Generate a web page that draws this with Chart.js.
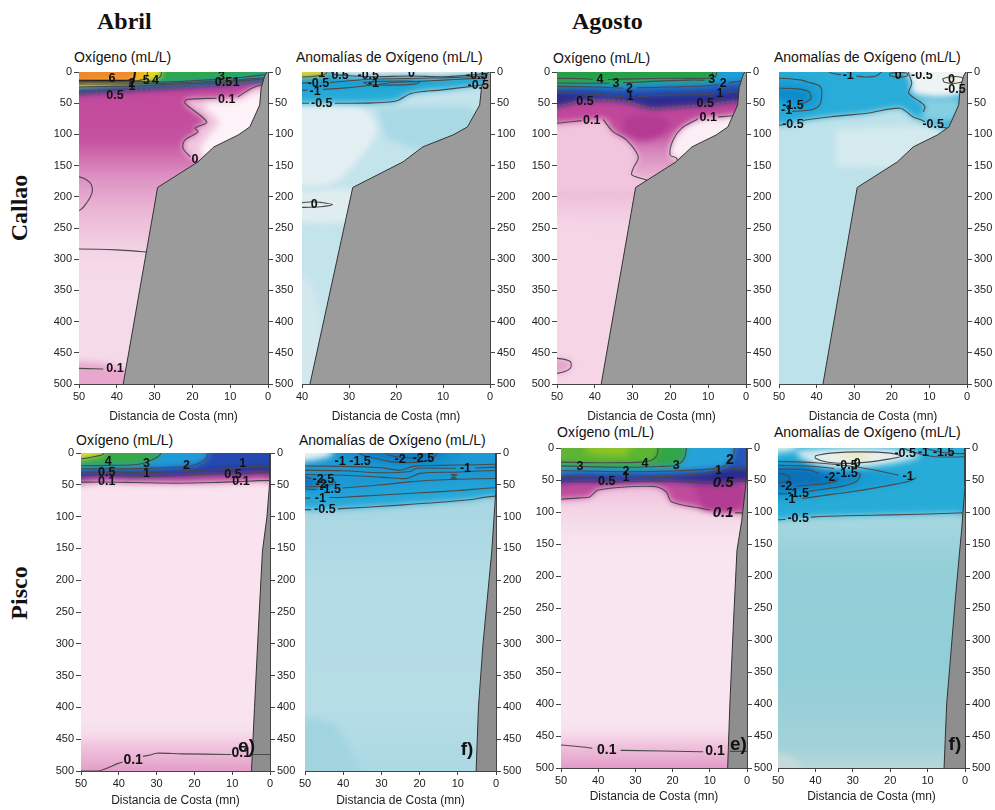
<!DOCTYPE html>
<html lang="es">
<head>
<meta charset="utf-8">
<title>Oxígeno disuelto y anomalías – Callao y Pisco</title>
<script src="https://cdn.jsdelivr.net/npm/chart.js@4.4.1/dist/chart.umd.min.js"></script>
<style>
html,body{margin:0;padding:0;background:#fff}
body{position:relative;width:995px;height:810px;overflow:hidden;font-family:"Liberation Sans",Arial,sans-serif;color:#111}
canvas{position:absolute}
.mes{position:absolute;top:9px;font:bold 24px/1 "Liberation Serif","Times New Roman",serif;color:#111}
.zona{position:absolute;font:bold 24px/1 "Liberation Serif","Times New Roman",serif;color:#111;white-space:nowrap;transform:translate(-50%,-50%) rotate(-90deg)}
.tit{position:absolute;font-size:14px;line-height:1;white-space:nowrap;color:#111}
</style>
</head>
<body>
<div class="mes" style="left:97px">Abril</div>
<div class="mes" style="left:572px">Agosto</div>
<div class="zona" style="left:19px;top:208px">Callao</div>
<div class="zona" style="left:19px;top:593px">Pisco</div>

<div class="tit" style="left:74px;top:50px">Oxígeno (mL/L)</div>
<div class="tit" style="left:296px;top:50px">Anomalías de Oxígeno (mL/L)</div>
<div class="tit" style="left:553px;top:51px">Oxígeno (mL/L)</div>
<div class="tit" style="left:774px;top:50px">Anomalías de Oxígeno (mL/L)</div>
<div class="tit" style="left:76px;top:433px">Oxígeno (mL/L)</div>
<div class="tit" style="left:299px;top:433px">Anomalías de Oxígeno (mL/L)</div>
<div class="tit" style="left:557px;top:425px">Oxígeno (mL/L)</div>
<div class="tit" style="left:774px;top:425px">Anomalías de Oxígeno (mL/L)</div>

<script>
const FONT = '"Liberation Sans", Arial, sans-serif';
Chart.defaults.font.family = FONT;

// ---------------- axes
const distTitle = 'Distancia de Costa (mn)';
const depthMax = 500, depthStep = 50, distStep = 10;

// ---------------- sea floor (x = distance from coast, mn ; y = depth, m)
const callaoFondo = [[-5,-40],[0,-40],[0.3,0],[0.8,5],[1.8,25],[2.2,53],[4.8,88],[7.9,101],[14.3,120],[18.5,144],[29.2,185],[38.3,500],[38.6,540],[-5,540]];
const piscoFondoAbrO = [[-5,-40],[0,-40],[0,40],[0.8,100],[2,154],[3.1,280],[4.1,400],[4.9,500],[5,540],[-5,540]];
const piscoFondoAbrA = [[-5,-40],[0,-40],[0,55],[1.1,154],[3.4,300],[4.6,400],[5.2,500],[5.3,540],[-5,540]];
const piscoFondoAgoO = [[-5,-40],[0,-40],[0,40],[1.4,113],[2.7,160],[3.7,280],[4.6,400],[5.2,500],[5.3,540],[-5,540]];
const piscoFondoAgoA = [[-5,-40],[0,-40],[0,60],[0.9,128],[2.5,230],[4.9,400],[5.6,500],[5.7,540],[-5,540]];

const RECT = [[60,-40],[-5,-40],[-5,540],[60,540]];

// ================= Callao, abril – oxígeno
const aC6 = [[60,14],[42,14],[36,13],[35.3,6],[35,-40]];
const aC5 = [[60,14.5],[36,14.5],[33,12],[32,6],[31.5,-40]];
const aC4 = [[60,15],[31,15],[29.2,11],[28.3,5],[27.5,-40]];
const aC3 = [[60,16.5],[27,16],[20,14],[12,11],[6,8],[2,5],[-5,2]];
const aC2 = [[60,19],[35,19],[25,17.5],[15,15],[8,13],[3,10],[-5,7]];
const aC1 = [[60,25],[40,23],[30,21],[20,18.5],[12,17],[8,15],[3,12],[-5,9]];
const aC05 = [[60,37],[50,35],[42.7,32.5],[35,29],[26,26],[20,24],[12.7,21],[8,18],[3,15.5],[-5,12]];
const aC01 = [[1.5,20],[4.3,26],[8,40],null,[13.6,42],[21.5,44],[22,50],[16.2,80],[19.3,90],[18.5,96],[22,109],[22.5,122],[20.6,136]];
const aC0a = [[60,170],[50,168],[47,178],[46.5,192],[48,210],[50,222],[60,226]];
const aC0b = [[60,283],[45,284],[40,285],[35,287],[31,289]];
const aC01b = [[60,475],[50,475],[43.6,476]];
const aZonaClara = [[1.5,20],[4.3,26],[8,40],[13.6,42],[21.5,44],[22,50],[16.2,80],[19.3,90],[18.5,96],[22,109],[22.5,122],[20.6,136],[19.5,142],[17,150],[-5,150],[-5,20]];
const aZonaBlanca = [[3,32],[9,47],[17,52],[13,80],[15.5,100],[18,125],[15,140],[-5,140],[-5,32]];
const aZonaBaja = [[60,462],[45,466],[38,476],[35,492],[36,540],[60,540]];
const aEtiquetas = [['6',41.3,11],['5',32.2,14],['4',29.8,14],['2',36,19],['1',36,23.5],['3',12.3,7.5],['0.5',11.8,17.5],['1',8.4,17],
  ['0.5',40.5,38],['0.1',10.9,44],['0',19.3,140],['0.1',40.5,476]];

// ================= Callao, abril – anomalías
const bM05 = [[60,50],[38.5,50],null,[33,50],[30.9,50],[25,49.5],[19.8,46],[17,35],[14,31],[10.6,29],[4.3,23.5],[2,21],[-5,16]];
const bM05s = [[60,17],[38.5,17.5],null,[34,17],[30,14],[25,11.5],[15,10],[8,9],[3,7],[-5,5]];
const bM1 = [[60,29],[38.8,29],null,[35.5,28],[30,25],[25,21],[20,16.5],[15,15],[10,13],[5,11],[-5,8]];
const bM1lazo = [[27,16.5],[24,15],[18,14.5],[15,16],[16,19.5],[21,21],[26,20],[27,16.5]];
const bCero = [[34,-5],[33.5,3],[30,6],[25,7.5],[17,6.5],[10,7.5],[4,5],[1,2],[-5,0]];
const bMedio = [[60,8.5],[40,8],[37,6.5],[35,3],[34.5,-5]];
const bLente = [[45,209],[40,209.5],[38,208],[36,209],[33.5,212.5],[36,216],[40,217],[45,217]];
const bAmarillo = [[60,-40],[60,9],[40,8.5],[37,7],[35,4],[34.5,-40]];
const bPalido = [[45,55],[28,55],[24,90],[28,140],[34,180],[45,180]];
const bFranja = [[45,195],[29,188],[22,215],[26,238],[45,242]];
const bAzulMedio = [[24,58],[12,55],[3,62],[5,110],[14,124],[22,108]];
const bFondoClaro = [[45,330],[39,330],[36,400],[38,540],[45,540]];
const bEtiquetas = [['1',35.8,3],['0.5',31.9,5],['-0.5',25.9,5],['0',16.7,3],['-0.5',2.8,5],['-0.5',36.5,18],['-1',24.8,19],
  ['-1',37.2,31.5],['-0.5',2.5,21],['-0.5',35.8,50],['0',37.4,213]];

// ================= Callao, agosto – oxígeno
const cC4 = [[60,10],[45,10.5],[40.5,11.5],null,[36.5,12],[30,11],[20,10],[12,10],[9,8],[9.5,-40]];
const cC3 = [[60,17],[40,18],[36.2,18],null,[32.5,17.5],[25,15],[15,13],[11,13],null,[8.2,9],[7.8,3],[7.6,-40]];
const cC2 = [[60,24],[50,23],[40,24],[32.7,26],null,[28.8,25.5],[20,24],[10,22],[7.5,20],null,[4.5,17],[-5,10]];
const cC1 = [[60,34],[50,33],[40,36],[32.5,39],null,[28.7,39],[20,37],[10,36],[8.3,35],null,[5,33],[-5,22]];
const cC05 = [[60,57],[50,55],[45,48],[42.6,46],[36,45],[30,50],[25.4,58],[20,57],[15.7,55],[10,52],[3.4,47.6],[-5,44]];
const cC01a = [[60,84],[50,82],[43.5,78],null,[37.8,76],[35.2,95.6],[31.6,109],[28.5,136],[29.8,154],[30.2,165],[26.3,173],[25,178]];
const cC01b = [[12.8,74],[13,76],[17,90],[19.3,109],[20.1,133],[18.4,138],[18,145]];
const cC01c = [[7.4,72],[4.2,70.5],[2,68]];
const cBurbuja = [[60,457],[50,459],[46.5,464],[46.5,475],[50,483],[60,486]];
const cIzq = [[60,84],[50,82],[40.8,77],[37.3,76],[35.2,95.6],[31.6,109],[28.5,136],[29.8,154],[30.2,165],[26.3,173],[27,190],[60,190]];
const cNucleo = [[32,72],[25,68],[20,80],[22,100],[28,110],[33,95]];
const cBlanco = [[13,76],[17,90],[19.3,109],[20.1,133],[18.4,140],[-5,140],[-5,70],[6.4,72],[10,73]];
const cEtiquetas = [['4',38.6,12],['3',34.4,18],['2',30.8,26],['1',30.6,39.5],['0.5',42.6,47.6],['3',9.1,11.7],['2',6,19.2],
  ['1',6.9,35],['0.5',10.8,50],['0.1',40.8,77],['0.1',10,72.6]];

// ================= Callao, agosto – anomalías
const dM05 = [[60,86],[50,85],[49,85],null,[43.8,78.5],[43,77],[36.2,71.6],[26.6,66],[17.8,58],[14.4,71.6],[12.1,77],[11.2,80],null,[7,88],[5,90],[-5,92]];
const dM05w = [[15.5,-5],[15.5,2],[14.7,18],[15.5,34],[12.5,47.6],[11.2,55],[11.6,64]];
const dM1 = [[60,10],[50,10],[44,13],[42.6,15.5],[39,23.5],[38.7,42],[39.5,55],[41.8,61],[46,63],[46.5,63.2]];
const dM15 = [[60,26],[50,26],[45,27],[42,32],[41.5,42],[43,49],[44.3,51]];
const dM1sup = [[38,-5],[36,2],[33.5,4.5],null,[29.5,6.5],[27,8],[24,6],[22,-5]];
const dCero1 = [[20.5,2],[18.5,0.5],[16,2],[15.8,6],[18,8],[20.5,6],[20.5,2]];
const dCero2 = [[6.5,11],[4.5,7.5],[1.5,8.5],[0.8,14],[3,18],[6,16.5],[6.5,11]];
const dPalido = [[35,92],[20,88],[8,92],[5,130],[15,152],[35,152]];
const dBlanco = [[16,-40],[16,2],[14.7,18],[15,30],[13,38],[8,42],[4,40],[1,35],[-5,30],[-5,-40]];
const dCianClaro = [[14.7,40],[12.5,47.6],[11.2,55],[12.1,74],[8,80],[3,75],[2,45],[8,42]];
const dAmarillo = [[6,12],[4.5,8.5],[2,9.5],[1.5,14],[3,17],[5.5,16]];
const dEtiquetas = [['-1.5',46.3,53],['-1',48,61],['-0.5',46.3,85],['-0.5',9,85],['-1',31.6,5],['0',18.3,5],['-0.5',12,5],
  ['0',4.1,12.8],['-0.5',3.2,27.8]];

// ================= Pisco, abril – oxígeno
const eC4 = [[60,10],[50,9],[46,5],[44,1],[43.5,-40]];
const eC3 = [[60,20],[50,20],[42,19.5],[35,18],[32,13],[30,7],[29,2],[28.8,-40]];
const eC2 = [[60,25],[45,25],[35,24.5],[25,22.5],[20,19],[17.5,12],[16.5,5],[16,-40]];
const eC1 = [[60,29.5],[45,30],[35,31],[25,29],[15,26],[8,23],[3,21],[-5,20]];
const eC05 = [[60,36],[45,35],[35,36.5],[25,35.5],[15,33],[8,33],[3,31],[-5,30]];
const eC01 = [[60,47],[45,45.5],[35,46.5],[25,47.5],[15,46.5],[8,45],[3,43.5],[-5,43]];
const eC01b = [[50,500],[45.4,500],[40.1,488],[39,486],null,[33.6,477],[31.4,474.5],[30.1,472],[23.5,473],[11.6,474],[10.2,474]];
const eC01c = [[5.2,474],[-5,474]];
const eFondoRosa = [[60,425],[-5,425],[-5,540],[60,540]];
const eEtiquetas = [['4',42.8,13.6],['3',32.7,16],['2',22.1,19],['1',7.2,17],['0.5',43.2,31],['1',32.7,32],['0.1',43.2,45],
  ['0.5',9.8,34.6],['0.1',7.7,45],['0.1',36.2,483,'m'],['0.1',7.6,472,'m'],['e)',6.2,462,'tag']];

// ================= Pisco, abril – anomalías
const fM05 = [[60,89],[50,89],[48.4,89],null,[41.4,88],[40.8,87.5],[25.1,82],[7.7,74],[1.6,68.6],[-5,66]];
const fM1 = [[60,71],[50,71],[48.6,71],null,[43.6,70],[40,69.5],[30,66],[20.8,63],[10,59],[1.6,55],[-5,54]];
const fM15 = [[60,57],[50,56.5],[46.8,57.5],null,[40.2,55],[30,50],[22,45],[15,42.5],[5,40.5],[-5,40]];
const fM2 = [[60,38],[50,38],[48.4,40],null,[42.3,44],[42,47],[44,51],[47.8,53],[50,53],[60,53]];
const fM25 = [[60,40],[50,40],[47.5,43.5],[48,48],[50,49],[60,49]];
const fLA = [[60,20],[40,21],[30,23],[25.1,27],[21.6,21],[15,19.5],[5,18.5],[-5,17]];
const fLB = [[60,26],[40,28],[30,31],[22.5,29],[20.8,24],[13.9,24],[10.5,24],null,[5.5,23.5],[-5,21]];
const fLC = [[60,33],[40,35],[30,38],[23.4,40],[19.9,32],[10,30],[3,28],[-5,27]];
const fLazoSup = [[37,-5],[35,3],[31,9],[27,14],[22,15],[18,12],[16,5],[15,-5]];
const fLazoSup2 = [[30,-5],[28,3],[24,7],[20,6],[19,-5]];
const fOcho = [[11.8,34],[10.2,34],[11.3,37],[10.3,40],[11.8,40],[10.9,37],[11.8,34]];
const fBlanco = [[60,-40],[60,14],[50,13],[45,8],[43,2],[42,-40]];
const fSupExt = [[42,-40],[40,5],[33,14],[25,20],[18,20],[12,14],[9,0],[9,-40]];
const fSupInt = [[36,-40],[35,0],[31,8],[26,14],[20,14],[16,10],[14,0],[13,-40]];
const fAbajo = [[60,90],[-5,90],[-5,540],[60,540]];
const fEsquina = [[60,410],[42,430],[36,540],[60,540]];
const fEtiquetas = [['-1',40.8,13.6],['-1.5',35.6,13.6],['-2',25.1,11],['-2.5',19,8],['-1',8,24],['-2.5',45.2,42.5],
  ['-2',45.8,50],['-1.5',43.4,58],['-1',46,71],['-0.5',44.8,89],['f)',7.6,467,'tag']];

// ================= Pisco, agosto – oxígeno
const gC4 = [[60,22],[50,22],[40,23],[30,22.5],[26,20],[24.5,14],[24,6],[23.5,-40]];
const gC3 = [[60,28],[50,28],[40,29.5],[30,30],[24,29],[19,27],[17.3,20],[16.5,10],[16,-40]];
const gC2 = [[60,35],[45,36],[32.5,37],[20,36],[10,33],[6,28],[4.6,19],[3.5,8],[3,-40]];
const gC1 = [[60,43],[45,45],[32.5,46],[20,44],[12,40],[7.7,35],[3,32],[-5,30]];
const gC05 = [[60,52],[45,52.5],[37.7,53],[30,52],[20,52],[12,55],[6.4,55],[2,52],[-5,50]];
const gC01 = [[60,81],[50,80],[45,78],[42.2,76],[40,65.6],[25.3,60],[21.8,68],[20.3,84],[12.6,94],[9.8,97],null,[3.2,101],[-5,103]];
const gC01b = [[60,463],[50,464],[41.6,469],null,[34,472.5],[33.2,472.5],[12.6,474.5],[11.8,474.5],null,[4.6,474]];
const gC01c = [[4.6,474],[-5,474]];
const gVerdeClaro = [[44,-40],[43,5],[38,11],[32,9],[30,-40]];
const gMagentaDer = [[15,50],[8,52],[2,55],[0,80],[5,100],[12,95]];
const gFondoRosa = [[60,430],[-5,430],[-5,540],[60,540]];
const gBajoLinea = [[60,70],[-5,70],[-5,170],[60,170]];
const gEtiquetas = [['3',44.9,29],['4',27.4,24],['3',19,27],['2',32.5,37],['2',4.6,19,'m'],['1',32.5,46],['1',7.7,35],
  ['0.5',37.7,53],['0.5',6.4,55,'big'],['0.1',6.4,102,'big'],['0.1',37.7,472,'m'],['0.1',8.6,474,'m'],['e)',2.3,464,'tag']];

// ================= Pisco, agosto – anomalías
const hM05 = [[60,112],[50,112],[48,111.5],null,[41.2,108],[38.8,107],[25,105],[15,104],[4,102],[-5,100]];
const hM1 = [[60,20],[50,21],[40,23],[30,29],[22,37],[17.8,42.5],null,[13,46.5],[15,52],[20,58],[30,68],[40,76],[43.6,79],null,[50,81.5],[60,82]];
const hM15 = [[60,27],[50,27],[40,29],[35,32],null,[28.8,38],[28,42],[29,52],[33,60],[40,66],[41.8,68],null,[47.5,71.5],[60,72]];
const hM2 = [[60,33],[50,33],[42,34],[39,40],null,[34,48],[34.5,52],[38,56],[44,59],[45,60],null,[50.5,61],[60,62]];
const hM25 = [[60,40],[50,40],[47,44],[47,50],[50,54],[60,54]];
const hCero = [[40,12],[36,8],[28,6],[20,8],[17,13],[20,17],[26,22],[32,24],[37,22],[40,16],[40,12]];
const hSup1 = [[18,-5],[15,4],[10,12],[5,14],[-5,13]];
const hSup2 = [[13,-5],[9,3],[4,8],[-5,9]];
const hM05lazo = [[45,3],[40,1],[30,0],[20,1],[14,5],[12,12],[15,19],[22,26],[30,31],[37,30],[42,22],[45,10]];
const hCentro = [[33,10],[28,9],[25,12],[28,16],[33,15]];
const hEsquina = [[60,-40],[60,8],[48,6],[45,0],[45,-40]];
const hAbajo = [[60,110],[-5,110],[-5,540],[60,540]];
const hEsquinaInf = [[60,465],[45,488],[43,540],[60,540]];
const hEtiquetas = [['-0.5',16,8.3],['-1',11.1,7],['-1.5',5.7,7],['-0.5',31.6,27.5],['0',28.8,25],['-2',36.1,46],
  ['-1.5',31.6,40],['-1',15.2,44],['-2',47.7,60.5],['-1.5',44.6,71],['-1',46.8,81],['-0.5',44.6,110],['f)',2.7,464,'tag']];

// ---------------- helpers
const pts = a => a.map((p, i) => p ? { x: p[0], y: p[1] } : { x: a[i - 1][0], y: null });
const solid = a => a.filter(Boolean);
const above = line => { const s = solid(line); return [[s[0][0], -40], ...s, [s[s.length - 1][0], -40]]; };
const closeLeft = line => { const s = solid(line); return [...s, [s[0][0], s[0][1]]]; };

function vGrad(stops) {
  return c => {
    const ch = c.chart, ys = ch.scales && ch.scales.y;
    if (!ys || !ch.chartArea) return stops[0][1];
    const y0 = ys.getPixelForValue(stops[0][0]);
    const y1 = ys.getPixelForValue(stops[stops.length - 1][0]);
    const g = ch.ctx.createLinearGradient(0, y0, 0, y1);
    stops.forEach(([d, col]) => g.addColorStop(Math.min(1, Math.max(0, (ys.getPixelForValue(d) - y0) / (y1 - y0))), col));
    return g;
  };
}

const LINE = { borderColor: '#4a4a4a', borderWidth: 1.1 };
const DOTS = { borderColor: '#5e5e5e', borderWidth: 2.2, borderDash: [1, 4], borderCapStyle: 'round', tension: 0.3 };
const BOLD = { borderColor: '#111', borderWidth: 2 };

// soft shading of the filled colour bands
const blurPlugin = (lastIdx, px) => ({
  id: 'fieldBlur',
  beforeDatasetsDraw(chart) { chart.ctx.save(); chart.ctx.filter = 'blur(' + px + 'px)'; },
  afterDatasetDraw(chart, args) { if (args.index === lastIdx) chart.ctx.restore(); }
});

// contour value labels, placed in data coordinates
const textPlugin = items => ({
  id: 'contourText',
  afterDatasetsDraw(chart) {
    const { ctx, chartArea: a, scales: { x, y } } = chart;
    ctx.save();
    ctx.beginPath(); ctx.rect(a.left, a.top, a.right - a.left, a.bottom - a.top); ctx.clip();
    ctx.textAlign = 'center'; ctx.textBaseline = 'middle'; ctx.fillStyle = '#111';
    items.forEach(([t, vx, vy, st]) => {
      ctx.font = st === 'big' ? 'italic bold 15px ' + FONT
        : st === 'tag' ? 'bold 19px ' + FONT
        : st === 'm' ? 'bold 14px ' + FONT : 'bold 12.5px ' + FONT;
      ctx.fillText(t, x.getPixelForValue(vx), y.getPixelForValue(vy));
    });
    ctx.restore();
  }
});

function makeChart(cfg) {
  const [L, T, R, B] = cfg.area;
  const w = R - L, h = B - T, PX = 40, PT = 10, PB = cfg.bottomBox;
  const cv = document.createElement('canvas');
  cv.width = w + 2 * PX; cv.height = h + PT + PB;
  cv.style.left = (L - PX) + 'px'; cv.style.top = (T - PT) + 'px';
  document.body.appendChild(cv);

  const ds = [];
  cfg.fields.forEach(([poly, color]) => ds.push({
    data: pts(poly), fill: 'shape', backgroundColor: color, borderWidth: 0,
    borderColor: 'rgba(0,0,0,0)', pointRadius: 0, tension: 0.3
  }));
  const lastField = ds.length - 1;
  const addLine = ([line, style]) => ds.push(Object.assign(
    { data: pts(line), fill: false, pointRadius: 0, tension: 0.3, spanGaps: false }, LINE, style || {}));
  cfg.lines.forEach(addLine);
  ds.push({ data: pts(cfg.fondo), fill: 'shape', backgroundColor: cfg.fondoColor, borderColor: '#333',
    borderWidth: 1, pointRadius: 0, tension: 0 });
  (cfg.topLines || []).forEach(addLine);
  ds.forEach((d, i) => { d.order = -i; });

  const tickFont = { family: FONT, size: 11 };
  const yAxis = (pos, show) => ({
    type: 'linear', reverse: true, min: 0, max: depthMax, position: pos,
    afterFit: s => { s.width = PX; },
    ticks: { display: show, stepSize: depthStep, color: '#222', font: tickFont, padding: 2 },
    grid: { drawOnChartArea: false, drawTicks: show, tickLength: 5, color: '#444' },
    border: { color: '#444', width: 1 }
  });

  const chart = new Chart(cv, {
    type: 'line',
    data: { datasets: ds },
    options: {
      responsive: false, maintainAspectRatio: false, animation: false, events: [],
      layout: { padding: { top: PT, left: 0, right: 0, bottom: 0 } },
      plugins: { legend: { display: false }, tooltip: { enabled: false }, title: { display: false } },
      scales: {
        x: {
          type: 'linear', reverse: true, min: 0, max: cfg.xmax, position: 'bottom',
          afterFit: s => { s.height = PB; },
          ticks: { stepSize: distStep, color: '#222', font: tickFont, padding: 2, maxRotation: 0 },
          grid: { drawOnChartArea: false, drawTicks: true, tickLength: 4, color: '#444' },
          border: { color: '#444', width: 1 },
          title: { display: true, text: distTitle, color: '#222', font: { family: FONT, size: 12 }, padding: { top: 3, bottom: 0 } }
        },
        xt: {
          type: 'linear', position: 'top', min: 0, max: cfg.xmax,
          afterFit: s => { s.height = 0; },
          ticks: { display: false }, grid: { display: false, drawTicks: false },
          border: { color: '#444', width: 1 }
        },
        y: yAxis('left', cfg.leftTicks),
        y2: yAxis('right', true)
      }
    },
    plugins: [blurPlugin(lastField, cfg.blur || 3), textPlugin(cfg.labels)]
  });

  const ca = chart.chartArea;
  const dw = w - (ca.right - ca.left), dh = h - (ca.bottom - ca.top);
  if (Math.abs(dw) > 0.5 || Math.abs(dh) > 0.5) chart.resize(cv.width + dw, cv.height + dh);
  const cb = chart.chartArea;
  cv.style.left = (L - cb.left) + 'px';
  cv.style.top = (T - cb.top) + 'px';
  return chart;
}

// ---------------- Callao, abril
makeChart({
  area: [79, 72, 268, 384], bottomBox: 40, xmax: 50, leftTicks: true, fondo: callaoFondo, fondoColor: '#9b9b9b', labels: aEtiquetas,
  fields: [
    [RECT, '#f5dae9'],
    [[[60,15],[-5,15],[-5,310],[60,310]], vGrad([[25,'#c2489c'],[110,'#c6529f'],[165,'#dc8fc2'],[220,'#ebb5d5'],[300,'#f5d9e8']])],
    [aZonaBaja, '#e8a8ce'],
    [aZonaClara, '#f0c6df'],
    [aZonaBlanca, '#fcf2f7'],
    [above(aC05), '#302a8a'], [above(aC1), '#2552b3'], [above(aC2), '#1fa5d8'], [above(aC3), '#2ea64b'],
    [above(aC4), '#e4dc2a'], [above(aC5), '#f3b226'], [above(aC6), '#ee8a2e']
  ],
  lines: [[aC6, BOLD], [aC5], [aC4], [aC3], [aC2], [aC1], [aC05, DOTS], [aC01], [aC0a], [aC0b], [aC01b]]
});

// ---------------- Callao, abril – anomalías
makeChart({
  area: [302, 72, 490, 384], bottomBox: 40, xmax: 40, leftTicks: false, fondo: callaoFondo, fondoColor: '#9b9b9b', labels: bEtiquetas,
  fields: [
    [RECT, '#c4e4ec'], [bPalido, '#e3eff2'], [bFranja, '#dfedf0'], [bAzulMedio, '#a8d9e5'], [bFondoClaro, '#d2e8ed'],
    [above(bM05), '#27abd7'], [above(bM1), '#1c9fd3'], [bM1lazo, '#1596cf'], [above(bCero), '#e6eded'], [bAmarillo, '#eed32b']
  ],
  lines: [[bM05], [bM05s], [bM1], [bM1lazo], [bCero], [bMedio], [bLente]]
});

// ---------------- Callao, agosto
makeChart({
  area: [557, 72, 746, 384], bottomBox: 40, xmax: 50, leftTicks: true, fondo: callaoFondo, fondoColor: '#9b9b9b', labels: cEtiquetas,
  fields: [
    [RECT, '#f5d5e6'],
    [[[60,40],[-5,40],[-5,240],[60,240]], vGrad([[45,'#bf4399'],[90,'#c24d9e'],[130,'#d98bbf'],[170,'#eab5d4'],[240,'#f4d3e5']])],
    [cIzq, '#f1c5de'], [cNucleo, '#b33b92'], [cBlanco, '#fbeef5'], [cBurbuja, '#e6a2cb'],
    [above(cC05), '#2c2b8d'], [above(cC1), '#2352b2'], [above(cC2), '#1d9fd6'], [above(cC3), '#2ea449'], [above(cC4), '#26a047']
  ],
  lines: [[cC4], [cC3], [cC2], [cC1], [cC05, DOTS], [cC01a], [cC01b], [cC01c], [cBurbuja]]
});

// ---------------- Callao, agosto – anomalías
makeChart({
  area: [779, 72, 967, 384], bottomBox: 40, xmax: 50, leftTicks: false, fondo: callaoFondo, fondoColor: '#9b9b9b', labels: dEtiquetas,
  fields: [
    [RECT, '#bee2ea'], [dPalido, '#d4eaef'], [above(dM05), '#29acd8'], [closeLeft(dM1), '#1a9ed4'], [closeLeft(dM15), '#0d8bcb'],
    [dBlanco, '#eef4f4'], [dCianClaro, '#86cee2'], [dAmarillo, '#f3eec6']
  ],
  lines: [[dM05], [dM05w], [dM1], [dM15], [dM1sup], [dCero1], [dCero2]]
});

// ---------------- Pisco, abril
makeChart({
  area: [81, 453, 270.5, 771], bottomBox: 37, xmax: 50, leftTicks: true, fondo: piscoFondoAbrO, fondoColor: '#8e8e8e', labels: eEtiquetas,
  fields: [
    [RECT, '#f8e3ee'],
    [eFondoRosa, vGrad([[425,'rgba(248,227,238,0)'],[455,'#f2c9e1'],[480,'#eab3d4'],[500,'#e39cc6']])],
    [above(eC01), '#c24a9d'], [above(eC05), '#2e2b8d'], [above(eC1), '#2549b0'], [above(eC2), '#219bd8'],
    [above(eC3), '#38a84a'], [above(eC4), '#e5e02b']
  ],
  lines: [[eC4], [eC3], [eC2], [eC1], [eC05], [eC01], [eC01b]],
  topLines: [[eC01c]]
});

// ---------------- Pisco, abril – anomalías
makeChart({
  area: [305, 453, 496, 771], bottomBox: 37, xmax: 50, leftTicks: false, fondo: piscoFondoAbrA, fondoColor: '#8e8e8e', labels: fEtiquetas,
  fields: [
    [RECT, '#b3dbe5'],
    [fAbajo, vGrad([[90,'#a9d7e3'],[200,'#b3dce6'],[400,'#b6dde6'],[500,'#acd9e4']])],
    [fEsquina, '#a2d4e0'],
    [above(fM05), '#27a9d9'], [above(fM1), '#22a2d7'], [above(fM15), '#1c98d2'],
    [closeLeft(fM2), '#0f80c5'], [closeLeft(fM25), '#0b6fba'],
    [fSupExt, '#1690cf'], [fSupInt, '#0e7bc2'], [fBlanco, '#e4f2f6']
  ],
  lines: [[fM05], [fM1], [fM15], [fM2], [fLA], [fLB], [fLC], [fLazoSup], [fLazoSup2], [fOcho]]
});

// ---------------- Pisco, agosto
makeChart({
  area: [561, 448, 747, 768], bottomBox: 36, xmax: 50, leftTicks: true, fondo: piscoFondoAgoO, fondoColor: '#8e8e8e', labels: gEtiquetas,
  fields: [
    [RECT, '#f8e5ef'],
    [gBajoLinea, vGrad([[70,'#f0c5de'],[170,'rgba(248,229,239,0)']])],
    [gFondoRosa, vGrad([[430,'rgba(248,229,239,0)'],[460,'#f1c6df'],[485,'#e9aed2'],[505,'#df92c2']])],
    [above(gC01), '#c04b9d'], [gMagentaDer, '#b23d93'],
    [above(gC05), '#2c2a8c'], [above(gC1), '#2757b6'], [above(gC2), '#25a3d9'], [above(gC3), '#32a548'],
    [above(gC4), '#5fb533'], [gVerdeClaro, '#8cc427']
  ],
  lines: [[gC4], [gC3], [gC2], [gC1], [gC05], [gC01], [gC01b]],
  topLines: [[gC01c]]
});

// ---------------- Pisco, agosto – anomalías
makeChart({
  area: [778, 448, 965, 768], bottomBox: 36, xmax: 50, leftTicks: false, fondo: piscoFondoAgoA, fondoColor: '#8e8e8e', labels: hEtiquetas,
  fields: [
    [RECT, '#96d0d9'],
    [hAbajo, vGrad([[110,'#a7d8e0'],[180,'#94cfd8'],[350,'#92ced7'],[470,'#a3d2d9'],[500,'#b9d8da']])],
    [hEsquinaInf, '#c6dadb'],
    [above(hM05), '#27acd8'], [closeLeft(hM1), '#1a9cd3'], [closeLeft(hM15), '#0f88c9'], [closeLeft(hM2), '#0b70b8'],
    [hM05lazo, '#cfeaf0'], [hCero, '#eef0ea'], [hCentro, '#ece4b0'], [hEsquina, '#d9eef2']
  ],
  lines: [[hM05], [hM1], [hM15], [hM2], [hM25], [hCero], [hSup1], [hSup2]]
});
</script>
</body>
</html>
